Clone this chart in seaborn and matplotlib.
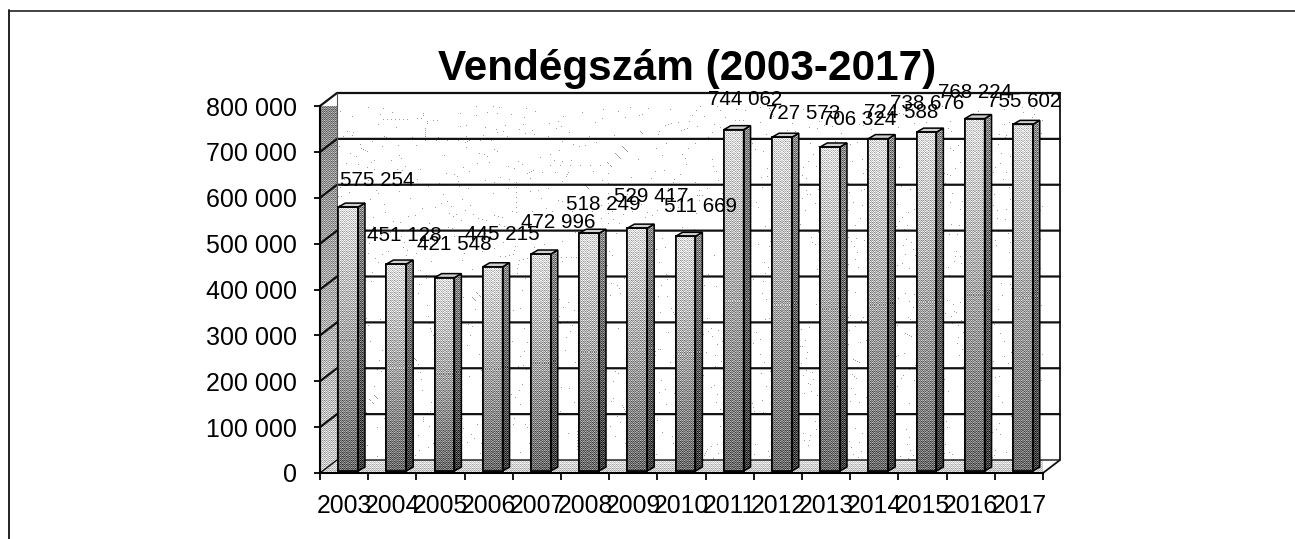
import numpy as np
import pandas as pd
import matplotlib
matplotlib.use("Agg")
import matplotlib.pyplot as plt
from matplotlib.patches import Polygon
from matplotlib.lines import Line2D
import seaborn as sns

years = ["2003", "2004", "2005", "2006", "2007", "2008", "2009", "2010",
         "2011", "2012", "2013", "2014", "2015", "2016", "2017"]
visitors = [575254, 451128, 421548, 445215, 472996, 518249, 529417, 511669,
            744062, 727573, 706324, 724588, 738676, 768224, 755602]
y_ticks = [0, 100000, 200000, 300000, 400000, 500000, 600000, 700000, 800000]
title = "Vendégszám (2003-2017)"
# label nudges in pixels relative to the top of each category centre
label_dx = [33, 12, 13.5, 14, 21, 18, 18, 19.5, 15, 25, 33, 27, 4.5, 4, 5]
label_dy = [29, 31, 35, 34, 34, 31, 34, 32, 32, 26, 29, 28, 31, 28, 25]

W, H = 1295, 539
sns.set_theme(style="white")
plt.rcParams["font.family"] = ["Liberation Sans", "DejaVu Sans"]

fig = plt.figure(figsize=(W / 100, H / 100), dpi=100, facecolor="white")
L, R, T, B = 320, 1043, 106, 473
ax = fig.add_axes([L / W, 1 - B / H, (R - L) / W, (B - T) / H])
ax.set_facecolor("none")

df = pd.DataFrame({"year": years, "visitors": visitors})
sns.barplot(data=df, x="year", y="visitors", color="#999999", width=0.41,
            ax=ax, zorder=5, edgecolor="black", linewidth=1.2, saturation=1)
bars = list(ax.patches)

YMAX = y_ticks[-1]
px_x = len(years) / (R - L)           # data units per pixel
px_y = YMAX / (B - T)
XMIN, XMAX = -0.5, len(years) - 0.5
DX, DY = 17 * px_x, 13 * px_y          # chart depth
bx, by = 7 * px_x, 4 * px_y            # bar depth
sx, sy = 4 * px_x, 2 * px_y            # bar shift in the floor

BAYER = np.array([[0, 8, 2, 10], [12, 4, 14, 6], [3, 11, 1, 9], [15, 7, 13, 5]]) / 16 - 0.47


def dither(grey, amount):
    h, w = grey.shape
    tile = np.tile(BAYER, (h // 4 + 1, w // 4 + 1))[:h, :w]
    return np.clip(grey + tile * amount, 0, 1)


def textured(poly, grey, amount, z):
    """Fill a polygon (data coords) with a dithered grey image."""
    patch = Polygon(poly, closed=True, facecolor="none", edgecolor="none",
                    transform=ax.transData)
    ax.add_patch(patch)
    pts = np.array(poly)
    x0, x1, y0, y1 = pts[:, 0].min(), pts[:, 0].max(), pts[:, 1].min(), pts[:, 1].max()
    im = ax.imshow(dither(grey, amount), cmap="gray", vmin=0, vmax=1, aspect="auto",
                   interpolation="nearest", extent=(x0, x1, y0, y1), zorder=z)
    im.set_clip_path(patch)
    return im


def vgrad(top, bottom, h, w):
    return np.tile(np.linspace(top, bottom, max(h, 2))[:, None], (1, max(w, 2)))


# back wall with a sparse speckle
wall_h, wall_w = B - T + 1, R - L + 1
jj, ii = np.meshgrid(np.arange(wall_w), np.arange(wall_h))
speck = np.where(((ii * 53 + jj * 29 + (ii * jj) // 7) % 131 == 0), 0.62, 1.0)
back = [(XMIN + DX, DY), (XMAX + DX, DY), (XMAX + DX, YMAX + DY), (XMIN + DX, YMAX + DY)]
textured(back, speck, 0, 0.5)

# left wall and floor
left = [(XMIN, 0), (XMIN + DX, DY), (XMIN + DX, YMAX + DY), (XMIN, YMAX)]
textured(left, vgrad(0.52, 0.80, 381, 18), 0.5, 1)
floor = [(XMIN, 0), (XMAX, 0), (XMAX + DX, DY), (XMIN + DX, DY)]
textured(floor, vgrad(0.86, 0.78, 13, 741), 0.4, 1)

# grid lines, back wall outline
for v in y_ticks:
    ax.plot([XMIN, XMIN + DX, XMAX + DX], [v, v + DY, v + DY], color="#111111",
            lw=1.6 if v else 1.0, zorder=2, clip_on=False)
ax.plot([XMAX, XMAX + DX, XMAX + DX], [0, DY, YMAX + DY], color="#111111", lw=1.3,
        zorder=2, clip_on=False)
ax.plot([XMIN + DX, XMIN + DX], [DY, YMAX + DY], color="#555555", lw=0.8, zorder=2,
        clip_on=False)

# bars: seaborn front face, plus dithered gradient, side and top faces
for bar in bars:
    bar.set_x(bar.get_x() + sx)
    bar.set_y(sy)
    bar.set_clip_on(False)
    x0, w, v = bar.get_x(), bar.get_width(), bar.get_height()
    x1 = x0 + w
    top = v + sy
    h_px = int(v / px_y)
    w_px = int(w / px_x)
    im = ax.imshow(dither(vgrad(0.88, 0.42, h_px, w_px), 0.55), cmap="gray", vmin=0, vmax=1,
                   aspect="auto", interpolation="nearest", extent=(x0, x1, sy, top), zorder=5.1)
    im.set_clip_path(bar)
    side = [(x1, sy), (x1 + bx, sy + by), (x1 + bx, top + by), (x1, top)]
    textured(side, vgrad(0.55, 0.25, h_px + 4, 7), 0.6, 5.05)
    ax.add_patch(Polygon(side, closed=True, fc="none", ec="black", lw=1.1, zorder=5.2, clip_on=False))
    cap = [(x0, top), (x1, top), (x1 + bx, top + by), (x0 + bx, top + by)]
    ax.add_patch(Polygon(cap, closed=True, fc="#d0d0d0", ec="black", lw=1.1, zorder=5.2, clip_on=False))
    ax.add_patch(Polygon([(x0, sy), (x1, sy), (x1, top), (x0, top)], closed=True, fc="none",
                         ec="black", lw=1.2, zorder=5.2, clip_on=False))

# data labels
for i, v in enumerate(visitors):
    ax.annotate(f"{v:,}".replace(",", " "), xy=(i, v), xycoords="data",
                xytext=(label_dx[i], label_dy[i]), textcoords="offset pixels",
                ha="center", va="center", fontsize=14.9, color="black", zorder=10,
                annotation_clip=False)

# axes
ax.set_xlim(XMIN, XMAX)
ax.set_ylim(0, YMAX)
ax.set_xlabel("")
ax.set_ylabel("")
ax.set_yticks(y_ticks)
ax.set_yticklabels([f"{v:,}".replace(",", " ") for v in y_ticks], fontsize=18, color="black")
ax.set_xticks(np.arange(len(years) + 1) - 0.5)
ax.set_xticklabels([""] * (len(years) + 1))
ax.set_xticks(np.arange(len(years)), labels=years, minor=True, fontsize=17.8, color="black")
ax.tick_params(axis="x", which="major", length=5, width=1.3, color="black", bottom=True)
ax.tick_params(axis="x", which="minor", length=0, pad=15, bottom=True)
ax.tick_params(axis="y", which="major", length=4, width=1.3, color="black", left=True, pad=12.5)
sns.despine(ax=ax, top=True, right=True)
for s in ("left", "bottom"):
    ax.spines[s].set_color("black")
    ax.spines[s].set_linewidth(1.5)
    ax.spines[s].set_zorder(4)

# title and scanned page frame
fig.text(687 / W, 1 - 69 / H, title, ha="center", va="center", fontsize=30.4, fontweight="bold",
         color="black")
fig.add_artist(Line2D([9 / W, 9 / W], [0, 1 - 10 / H], color="#222222", lw=1.4))
fig.add_artist(Line2D([9 / W, 1], [1 - 11 / H, 1 - 11 / H], color="#222222", lw=1.2))

fig.savefig("out.png", dpi=100, facecolor="white")
